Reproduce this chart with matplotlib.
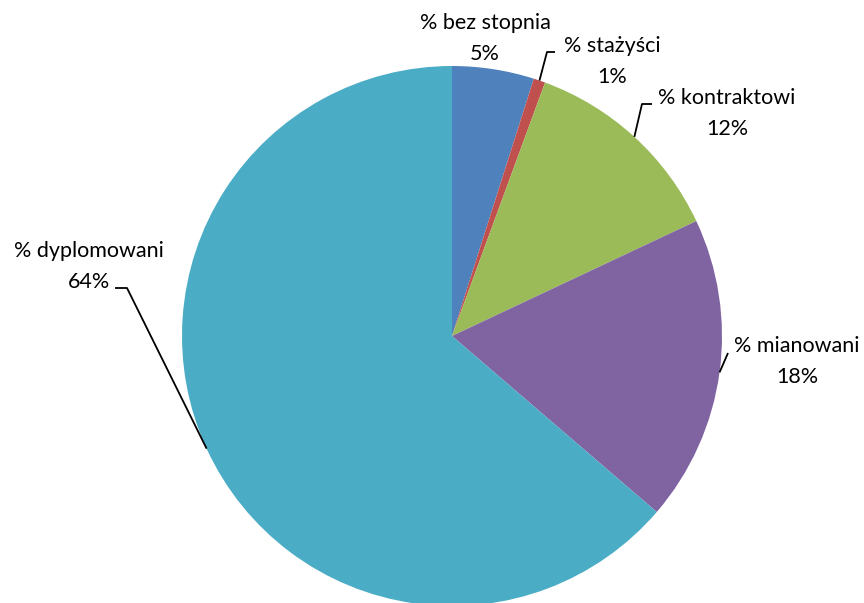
"""Pie chart: share of teachers by professional promotion level."""
import matplotlib
matplotlib.use("Agg")
import matplotlib.pyplot as plt
import numpy as np

# ----- Data ----------------------------------------------------------------
categories = ["% bez stopnia", "% stażyści", "% kontraktowi",
              "% mianowani", "% dyplomowani"]
shares = [4.9, 0.7, 12.4, 18.3, 63.7]
colors = ["#4F81BD", "#C0504D", "#9BBB59", "#8064A2", "#4BACC6"]

# label centre (x, y of first line) in pixel space, y measured from top
label_pos = [(485, 23), (612, 46), (727, 98), (797, 346), (89, 251)]
# elbow of leader line (None = no leader)
elbows = [None, (547, 52), (642, 104), (728, 353), (127, 288)]
tails = [None, (555, 52), (652, 104), None, (115, 288)]

W, H = 864, 603
CX, CY, R = 452, 336, 270

plt.rcParams["font.family"] = ["Lato", "DejaVu Sans"]

fig = plt.figure(figsize=(W / 100, H / 100), dpi=100)
ax = fig.add_axes([0, 0, 1, 1])

ax.pie(shares, colors=colors, startangle=90, counterclock=False,
       center=(CX, H - CY), radius=R, frame=True,
       wedgeprops=dict(linewidth=0))
ax.set_xlim(0, W)
ax.set_ylim(0, H)
ax.set_aspect("equal")
ax.axis("off")

total = sum(shares)
cum = np.cumsum([0] + shares)
for i, (cat, val) in enumerate(zip(categories, shares)):
    mid = (cum[i] + val / 2) / total * 2 * np.pi
    ex = CX + R * np.sin(mid)
    ey = CY - R * np.cos(mid)
    lx, ly = label_pos[i]
    ax.text(lx, H - ly, cat, ha="center", va="center", fontsize=15.5,
            color="black")
    ax.text(lx, H - ly - 31, f"{val:.0f}%", ha="center", va="center",
            fontsize=15.5, color="black")
    if elbows[i] is not None:
        pts = [(ex, ey), elbows[i]]
        if tails[i] is not None:
            pts.append(tails[i])
        xs = [p[0] for p in pts]
        ys = [H - p[1] for p in pts]
        ax.plot(xs, ys, color="black", lw=1.3, solid_capstyle="butt")

fig.savefig("out.png", dpi=100)
